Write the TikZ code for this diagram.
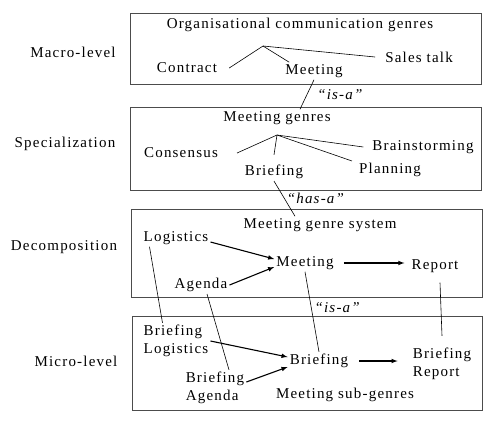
\documentclass[tikz,border=0pt]{standalone}
\usepackage{fontspec}
\setmainfont{Liberation Serif}[LetterSpace=8]
\usepackage{tikz}
\usetikzlibrary{arrows,positioning}

\begin{document}
\begin{tikzpicture}[x=1pt,y=1pt]
\tikzstyle{every node}=[inner sep=2pt,font=\fontsize{15}{18}\selectfont]
\tikzstyle{twoleft}=[align=left]
\tikzstyle{layer}=[draw=black!70,line width=1pt]
\tikzstyle{branch}=[line width=0.6pt]
\tikzstyle{flow}=[-latex,line width=1.1pt]
\tikzstyle{rel}=[font=\fontsize{15}{18}\selectfont\itshape]
\useasboundingbox (0,0) rectangle (503,-426);
% layers
\draw[layer] (130,-13) rectangle (481,-84);
\draw[layer] (130,-107) rectangle (481,-190);
\draw[layer] (131,-209) rectangle (482,-297);
\draw[layer] (132,-316) rectangle (482,-410);
% level names
\node (macro) at (73,-52) {Macro-level};
\node (spec) at (65,-144) {Specialization};
\node (decomp) at (64,-247) {Decomposition};
\node (micro) at (76,-361) {Micro-level};
% macro level
\node (org) at (300,-25) {Organisational communication genres};
\coordinate (r1) at (263,-46);
\node (contract) at (187,-68) {Contract};
\node (meet1) at (314,-71) {Meeting};
\node (sales) at (419,-57) {Sales talk};
\draw[branch] (r1) -- ([xshift=10]contract.east);
\draw[branch] (r1) -- ([xshift=6]meet1.north west);
\draw[branch] (r1) -- ([xshift=-8]sales.west);
% specialization
\node (mgen) at (277,-118) {Meeting genres};
\coordinate (r2) at (277,-135);
\node (consensus) at (181,-153) {Consensus};
\node (brief1) at (274,-172) {Briefing};
\node (brain) at (423,-147) {Brainstorming};
\node (plan) at (390,-170) {Planning};
\draw[branch] (r2) -- ([xshift=17]consensus.east);
\draw[branch] (r2) -- ([yshift=8]brief1.north);
\draw[branch] (r2) -- ([xshift=-7]brain.west);
\draw[branch] (r2) -- ([xshift=-5]plan.north west);
\draw[branch] (meet1.south) -- node[rel,right=8pt] {``is-a''} ([xshift=23]mgen.north);
% decomposition
\node (system) at (320,-225) {Meeting genre system};
\draw[branch] (brief1.south) -- node[rel,right=0pt] {``has-a''} ([xshift=-25]system.north);
\node (logi) at (176,-238) {Logistics};
\node (meet2) at (305,-263) {Meeting};
\node (report) at (435,-266) {Report};
\node (agenda) at (201,-285) {Agenda};
\draw[flow] ([yshift=-4]logi.east) -- ([yshift=4]meet2.west);
\draw[flow] (agenda.east) -- ([yshift=-4]meet2.west);
\draw[flow,shorten <=8pt,shorten >=5pt] (meet2.east) -- (meet2.east -| report.west);
% micro level
\node[twoleft] (blogi) at (176,-341) {Briefing\\Logistics};
\node (brief2) at (319,-361) {Briefing};
\node[twoleft] (bagenda) at (215,-388) {Briefing\\Agenda};
\node[twoleft] (breport) at (442,-364) {Briefing\\Report};
\node (subgen) at (345,-395) {Meeting sub-genres};
\draw[flow] (blogi.east) -- ([yshift=4]brief2.west);
\draw[flow] ([yshift=6]bagenda.east) -- ([yshift=-6]brief2.west);
\draw[flow,shorten <=9pt,shorten >=13pt] (brief2.east) -- (brief2.east -| breport.west);
% layer links
\draw[branch] ([xshift=8]logi.south west) -- ([xshift=21]blogi.north west);
\draw[branch] ([xshift=6]agenda.south) -- ([xshift=14]bagenda.north);
\draw[branch] (meet2.south) -- node[rel,pos=0.45,right=1pt] {``is-a''} (brief2.north);
\draw[branch] ([shift={(5,-8)}]report.south) -- ([yshift=10]breport.north);
\end{tikzpicture}
\end{document}
